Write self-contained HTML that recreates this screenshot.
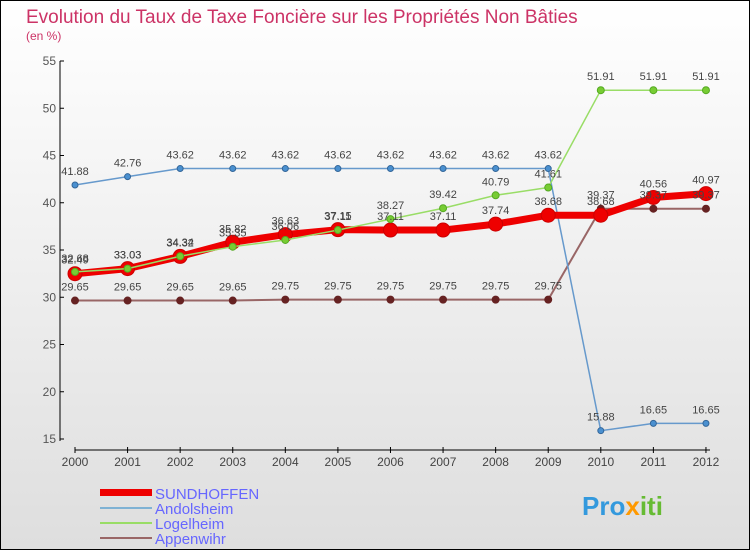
<!DOCTYPE html>
<html><head><meta charset="utf-8"><style>
body{margin:0;width:750px;height:550px;overflow:hidden;font-family:"Liberation Sans",sans-serif}
</style></head><body>
<svg id="chart" width="750" height="550" xmlns="http://www.w3.org/2000/svg" font-family="Liberation Sans, sans-serif">
<defs><linearGradient id="bg" x1="0" y1="0" x2="0" y2="1"><stop offset="0" stop-color="#ffffff"/><stop offset="1" stop-color="#dedede"/></linearGradient></defs>
<rect x="0.5" y="0.5" width="749" height="549" fill="url(#bg)" stroke="#000"/>
<text x="26" y="23" font-size="19" fill="#cc3366">Evolution du Taux de Taxe Foncière sur les Propriétés Non Bâties</text>
<text x="26" y="40" font-size="12" fill="#cc3366">(en %)</text>
<g id="axes"></g><g id="series"></g><g id="labels"></g>
<g>
<rect x="100" y="489" width="52" height="7" fill="#ee0000"/>
<line x1="100" y1="508" x2="152" y2="508" stroke="#7fb2d4" stroke-width="2"/>
<line x1="100" y1="523" x2="152" y2="523" stroke="#99dd66" stroke-width="2"/>
<line x1="100" y1="538" x2="152" y2="538" stroke="#996666" stroke-width="2"/>
<text x="155" y="499" font-size="15" fill="#6666ff">SUNDHOFFEN</text>
<text x="155" y="514" font-size="15" fill="#6666ff">Andolsheim</text>
<text x="155" y="529" font-size="15" fill="#6666ff">Logelheim</text>
<text x="155" y="544" font-size="15" fill="#6666ff">Appenwihr</text>
</g>
<text x="582" y="515" font-size="26" font-weight="bold" fill="#3399dd">Pro<tspan fill="#ff9900">x</tspan><tspan fill="#66bb33">iti</tspan></text>
</svg>
<script>
const years=[2000,2001,2002,2003,2004,2005,2006,2007,2008,2009,2010,2011,2012];
const sundhoffen=[32.49,33.03,34.32,35.82,36.63,37.15,37.11,37.11,37.74,38.68,38.68,40.56,40.97];
const andolsheim=[41.88,42.76,43.62,43.62,43.62,43.62,43.62,43.62,43.62,43.62,15.88,16.65,16.65];
const logelheim=[32.68,33.03,34.34,35.35,36.06,37.11,38.27,39.42,40.79,41.61,51.91,51.91,51.91];
const appenwihr=[29.65,29.65,29.65,29.65,29.75,29.75,29.75,29.75,29.75,29.75,39.37,39.37,39.37];
const yTicks=[15,20,25,30,35,40,45,50,55];
const NS="http://www.w3.org/2000/svg";
const xs=i=>75+i*52.58;
const ys=v=>439-(v-15)*9.45;
function mk(t,a,p){const e=document.createElementNS(NS,t);for(const k in a)e.setAttribute(k,a[k]);p.appendChild(e);return e;}
const ax=document.getElementById('axes');
mk('line',{x1:60,y1:61,x2:60,y2:441,stroke:'#000'},ax);
mk('line',{x1:75,y1:450,x2:710,y2:450,stroke:'#000'},ax);
yTicks.forEach(v=>{
 mk('line',{x1:60,y1:ys(v),x2:64,y2:ys(v),stroke:'#000'},ax);
 const t=mk('text',{x:56,y:ys(v)+4,'font-size':12,fill:'#555','text-anchor':'end'},ax);t.textContent=v;
 
 
});
years.forEach((y,i)=>{
 mk('line',{x1:xs(i),y1:447,x2:xs(i),y2:453,stroke:'#000'},ax);
 const t=mk('text',{x:xs(i),y:466,'font-size':12,fill:'#444','text-anchor':'middle'},ax);t.textContent=y;
 
 
});
const sg=document.getElementById('series'),lg=document.getElementById('labels');
function draw(name,data,color,w,r,dot,dotStroke){
 const g=mk('g',{},sg);
 
 
 mk('polyline',{points:data.map((v,i)=>xs(i)+','+ys(v)).join(' '),fill:'none',stroke:color,'stroke-width':w,'stroke-linejoin':'round'},g);
 data.forEach((v,i)=>{
  const c=mk('circle',{cx:xs(i),cy:ys(v),r:r,fill:dot,stroke:dotStroke,'stroke-width':1},g);
  
  
  const t=mk('text',{x:xs(i),y:ys(v)-10,'font-size':11,fill:'#444','text-anchor':'middle'},lg);
  t.textContent=v.toFixed(2);
  
  
 });
}
draw('appenwihr',appenwihr,'#996666',2,3.5,'#662222','#662222');
draw('andolsheim',andolsheim,'#6699cc',1.5,3,'#4a90d0','#336699');
draw('sundhoffen',sundhoffen,'#ee0000',7,7,'#ee0000','#cc0000');
draw('logelheim',logelheim,'#99dd66',1.5,3.5,'#77cc33','#55aa22');
</script>
</body></html>
